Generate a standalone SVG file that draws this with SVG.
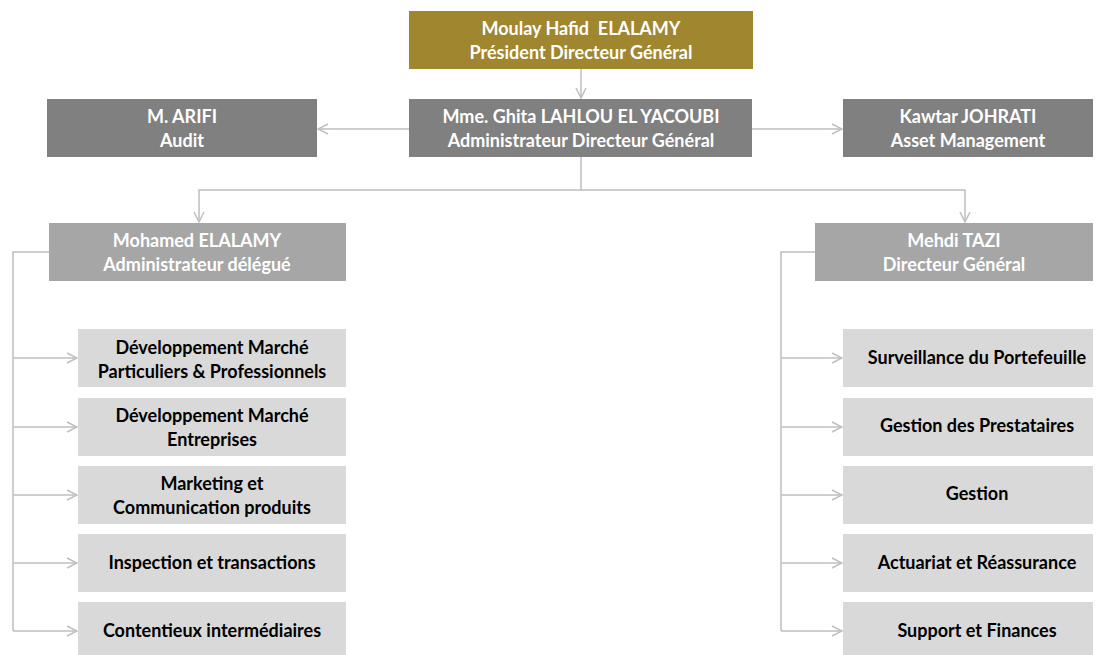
<svg xmlns="http://www.w3.org/2000/svg" width="1098" height="655" viewBox="0 0 1098 655">
  <style>
    text { font-family: Lato, "Open Sans", "Liberation Sans", sans-serif; font-weight: bold; font-size: 18px; text-anchor: middle; white-space: pre; }
    .light { fill: #ffffff; }
    .dark { fill: #000000; }
    .gold { fill: #A0862F; }
    .grey1 { fill: #808080; }
    .grey2 { fill: #A6A6A6; }
    .grey3 { fill: #D9D9D9; }
    .link { fill: none; stroke: #BFBFBF; stroke-width: 1.5; }
  </style>
  <defs>
    <marker id="arrow" viewBox="0 0 12 12" refX="11" refY="6" markerWidth="12" markerHeight="12" markerUnits="userSpaceOnUse" orient="auto">
      <path d="M1,1 L11,6 L1,11" fill="none" stroke="#BFBFBF" stroke-width="1.5"/>
    </marker>
  </defs>
  <rect width="1098" height="655" fill="#ffffff"/>

  <!-- connectors -->
  <g id="connectors">
    <path class="link" d="M581,69 V98" marker-end="url(#arrow)"/>
    <path class="link" d="M409,129 H318" marker-end="url(#arrow)"/>
    <path class="link" d="M752,129 H842" marker-end="url(#arrow)"/>
    <path class="link" d="M581,157 V190 H199 V222" marker-end="url(#arrow)"/>
    <path class="link" d="M581,190 H965 V222" marker-end="url(#arrow)"/>
    <!-- left branch -->
    <path class="link" d="M49,252 H13 V631"/>
    <path class="link" d="M13,358 H77" marker-end="url(#arrow)"/>
    <path class="link" d="M13,427 H77" marker-end="url(#arrow)"/>
    <path class="link" d="M13,495 H77" marker-end="url(#arrow)"/>
    <path class="link" d="M13,563 H77" marker-end="url(#arrow)"/>
    <path class="link" d="M13,631 H77" marker-end="url(#arrow)"/>
    <!-- right branch -->
    <path class="link" d="M815,252 H781 V631"/>
    <path class="link" d="M781,358 H842" marker-end="url(#arrow)"/>
    <path class="link" d="M781,427 H842" marker-end="url(#arrow)"/>
    <path class="link" d="M781,495 H842" marker-end="url(#arrow)"/>
    <path class="link" d="M781,563 H842" marker-end="url(#arrow)"/>
    <path class="link" d="M781,631 H842" marker-end="url(#arrow)"/>
  </g>

  <g id="pdg">
    <rect class="gold" x="409" y="11" width="344" height="58"/>
    <text class="light" x="581" y="35" xml:space="preserve">Moulay Hafid  ELALAMY</text>
    <text class="light" x="581" y="59">Président Directeur Général</text>
  </g>
  <g id="adg">
    <rect class="grey1" x="409" y="99" width="343" height="58"/>
    <text class="light" x="581" y="123">Mme. Ghita LAHLOU EL YACOUBI</text>
    <text class="light" x="581" y="147">Administrateur Directeur Général</text>
  </g>
  <g id="audit">
    <rect class="grey1" x="47" y="99" width="270" height="58"/>
    <text class="light" x="182" y="123">M. ARIFI</text>
    <text class="light" x="182" y="147">Audit</text>
  </g>
  <g id="asset">
    <rect class="grey1" x="843" y="99" width="250" height="58"/>
    <text class="light" x="968" y="123">Kawtar JOHRATI</text>
    <text class="light" x="968" y="147">Asset Management</text>
  </g>
  <g id="delegue">
    <rect class="grey2" x="49" y="223" width="297" height="58"/>
    <text class="light" x="197" y="247">Mohamed ELALAMY</text>
    <text class="light" x="197" y="271">Administrateur délégué</text>
  </g>
  <g id="dg">
    <rect class="grey2" x="815" y="223" width="278" height="58"/>
    <text class="light" x="954" y="247">Mehdi TAZI</text>
    <text class="light" x="954" y="271">Directeur Général</text>
  </g>

  <!-- left departments -->
  <g id="dev-particuliers">
    <rect class="grey3" x="78" y="329" width="268" height="58"/>
    <text class="dark" x="212" y="354">Développement Marché</text>
    <text class="dark" x="212" y="378">Particuliers &amp; Professionnels</text>
  </g>
  <g id="dev-entreprises">
    <rect class="grey3" x="78" y="398" width="268" height="58"/>
    <text class="dark" x="212" y="422">Développement Marché</text>
    <text class="dark" x="212" y="446">Entreprises</text>
  </g>
  <g id="marketing">
    <rect class="grey3" x="78" y="466" width="268" height="58"/>
    <text class="dark" x="212" y="490">Marketing et</text>
    <text class="dark" x="212" y="514">Communication produits</text>
  </g>
  <g id="inspection">
    <rect class="grey3" x="78" y="534" width="268" height="58"/>
    <text class="dark" x="212" y="569">Inspection et transactions</text>
  </g>
  <g id="contentieux">
    <rect class="grey3" x="78" y="602" width="268" height="58"/>
    <text class="dark" x="212" y="637">Contentieux intermédiaires</text>
  </g>

  <!-- right departments -->
  <g id="surveillance">
    <rect class="grey3" x="843" y="329" width="250" height="58"/>
    <text class="dark" x="977" y="364">Surveillance du Portefeuille</text>
  </g>
  <g id="prestataires">
    <rect class="grey3" x="843" y="398" width="250" height="58"/>
    <text class="dark" x="977" y="432">Gestion des Prestataires</text>
  </g>
  <g id="gestion">
    <rect class="grey3" x="843" y="466" width="250" height="58"/>
    <text class="dark" x="977" y="500">Gestion</text>
  </g>
  <g id="actuariat">
    <rect class="grey3" x="843" y="534" width="250" height="58"/>
    <text class="dark" x="977" y="569">Actuariat et Réassurance</text>
  </g>
  <g id="support">
    <rect class="grey3" x="843" y="602" width="250" height="58"/>
    <text class="dark" x="977" y="637">Support et Finances</text>
  </g>
</svg>
